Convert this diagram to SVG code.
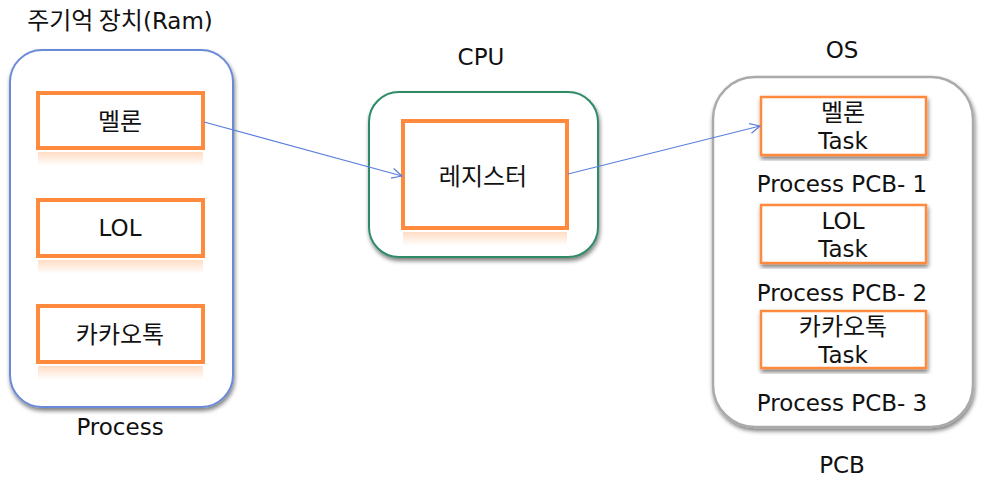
<svg xmlns="http://www.w3.org/2000/svg" width="989" height="497" viewBox="0 0 989 497">
<defs>
<style>
text{font-family:"DejaVu Sans","Noto Sans CJK KR",sans-serif;font-size:23px;fill:#111;text-anchor:middle}
.k{font-family:"Noto Sans CJK KR",sans-serif;font-size:24px}
.box{fill:#fff;stroke:#ff8a3d;stroke-width:4}
.tbox{fill:#fff;stroke:#ff8a3d;stroke-width:2.5}
.conn{stroke:#5b7fdc;stroke-width:1.2;fill:none}
</style>
<filter id="sh" x="-10%" y="-10%" width="120%" height="120%">
<feGaussianBlur in="SourceAlpha" stdDeviation="2"/>
<feOffset dx="1" dy="3"/>
<feComponentTransfer><feFuncA type="linear" slope="0.5"/></feComponentTransfer>
<feMerge><feMergeNode/><feMergeNode in="SourceGraphic"/></feMerge>
</filter>
<linearGradient id="refl" x1="0" y1="0" x2="0" y2="1">
<stop offset="0" stop-color="#ff8a3d" stop-opacity="0.3"/>
<stop offset="1" stop-color="#ff8a3d" stop-opacity="0"/>
</linearGradient>
<marker id="arr" markerWidth="12" markerHeight="12" refX="11" refY="6" orient="auto" markerUnits="userSpaceOnUse">
<path d="M1,1 L11,6 L1,11" fill="none" stroke="#5b7fdc" stroke-width="1.2"/>
</marker>
</defs>

<g id="ram">
<rect x="10" y="50" width="223" height="357" rx="32" fill="#fff" stroke="#6b8ad8" stroke-width="2" filter="url(#sh)"/>
<text x="120" y="29"><tspan class="k">주기억 장치</tspan>(Ram)</text>
<text x="120" y="435">Process</text>
</g>
<g id="ram-melon">
<rect x="38" y="93" width="165" height="55" class="box"/>
<rect x="38" y="152" width="165" height="14" fill="url(#refl)"/>
<text x="120" y="130" class="k">멜론</text>
</g>
<g id="ram-lol">
<rect x="38" y="200" width="165" height="56" class="box"/>
<rect x="38" y="260" width="165" height="14" fill="url(#refl)"/>
<text x="120" y="236">LOL</text>
</g>
<g id="ram-kakao">
<rect x="38" y="306" width="165" height="56" class="box"/>
<rect x="38" y="366" width="165" height="14" fill="url(#refl)"/>
<text x="120" y="343" class="k">카카오톡</text>
</g>

<g id="cpu">
<rect x="369" y="92" width="229" height="165" rx="30" fill="#fff" stroke="#2e8b66" stroke-width="2" filter="url(#sh)"/>
<text x="481" y="65">CPU</text>
</g>
<g id="register">
<rect x="403" y="121" width="164" height="107" class="box"/>
<rect x="403" y="232" width="164" height="14" fill="url(#refl)"/>
<text x="483" y="185" class="k">레지스터</text>
</g>

<g id="os">
<rect x="713" y="77" width="260" height="350" rx="42" fill="#fff" stroke="#aaaaaa" stroke-width="2.5" filter="url(#sh)"/>
<text x="842" y="58">OS</text>
<text x="842" y="192">Process PCB- 1</text>
<text x="842" y="301">Process PCB- 2</text>
<text x="842" y="411">Process PCB- 3</text>
<text x="842" y="473">PCB</text>
</g>
<g id="task-melon">
<rect x="761" y="97" width="165" height="58" class="tbox" filter="url(#sh)"/>
<text x="843" y="121" class="k">멜론</text>
<text x="843" y="149">Task</text>
</g>
<g id="task-lol">
<rect x="761" y="205" width="165" height="58" class="tbox" filter="url(#sh)"/>
<text x="843" y="229">LOL</text>
<text x="843" y="257">Task</text>
</g>
<g id="task-kakao">
<rect x="761" y="311" width="165" height="57" class="tbox" filter="url(#sh)"/>
<text x="843" y="335" class="k">카카오톡</text>
<text x="843" y="363">Task</text>
</g>

<g id="connectors">
<line x1="204" y1="122" x2="402" y2="176" class="conn" marker-end="url(#arr)"/>
<line x1="568" y1="174" x2="760" y2="126" class="conn" marker-end="url(#arr)"/>
</g>
</svg>
